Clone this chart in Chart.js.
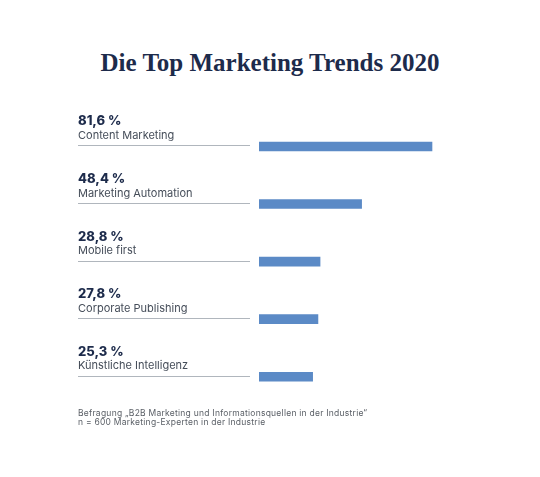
<!DOCTYPE html>
<html lang="de">
<head>
<meta charset="utf-8">
<title>Die Top Marketing Trends 2020</title>
<script src="https://cdn.jsdelivr.net/npm/chart.js@4/dist/chart.umd.min.js"></script>
<style>
  html, body { margin: 0; padding: 0; background: #fff; }
  #wrap { position: relative; width: 540px; height: 477px; overflow: hidden; }
  #trendChart { position: absolute; left: 0; top: 0; }
  h1 {
    position: absolute; left: 0; top: 49px; width: 540px; margin: 0;
    text-align: center; font: bold 25px "Liberation Serif", serif; color: #1d2b4b;
  }
  .note {
    position: absolute; left: 78px; top: 408.5px; margin: 0;
    font: 8.5px/9.5px Inter, "Noto Sans", sans-serif; letter-spacing: 0.25px; color: #5a5f66;
  }
</style>
</head>
<body>
<div id="wrap">
  <h1>Die Top Marketing Trends 2020</h1>
  <canvas id="trendChart" width="540" height="477"></canvas>
  <p class="note">Befragung „B2B Marketing und Informationsquellen in der Industrie“<br>n = 600 Marketing-Experten in der Industrie</p>
</div>
<script>
// Daten
const trends = ['Content Marketing', 'Marketing Automation', 'Mobile first', 'Corporate Publishing', 'Künstliche Intelligenz'];
const shares = [81.6, 48.4, 28.8, 27.8, 25.3];

const navy = '#1d2b4b';

// Texte + Trennlinie links neben den Balken
const sideLabels = {
  id: 'sideLabels',
  afterDatasetsDraw(chart) {
    const { ctx, scales: { y } } = chart;
    ctx.save();
    trends.forEach((name, i) => {
      const cy = y.getPixelForValue(i);
      ctx.strokeStyle = '#b0b6bd';
      ctx.lineWidth = 1;
      ctx.beginPath();
      ctx.moveTo(78, Math.round(cy) - 0.5);
      ctx.lineTo(250, Math.round(cy) - 0.5);
      ctx.stroke();

      ctx.textAlign = 'left';
      ctx.textBaseline = 'alphabetic';
      ctx.fillStyle = navy;
      ctx.font = '800 13px Inter, sans-serif';
      ctx.fillText(shares[i].toFixed(1).replace('.', ',') + ' %', 78, cy - 21);
      ctx.fillStyle = '#454d59';
      ctx.font = '11px Inter, sans-serif';
      ctx.fillText(name, 78, cy - 7.5);
    });
    ctx.restore();
  }
};

const ctx = document.getElementById('trendChart').getContext('2d');
const trendChart = new Chart(ctx, {
  type: 'bar',
  data: {
    labels: trends,
    datasets: [{
      data: shares,
      backgroundColor: '#5b8ac6',
      barThickness: 9
    }]
  },
  options: {
    indexAxis: 'y',
    responsive: false,
    animation: false,
    devicePixelRatio: 1,
    layout: { padding: { left: 259, right: 69, top: 117.7, bottom: 71.5 } },
    scales: {
      x: { display: false, min: 0, max: 100 },
      y: { display: false }
    },
    plugins: {
      legend: { display: false },
      tooltip: { enabled: false }
    }
  },
  plugins: [sideLabels]
});
</script>
</body>
</html>
